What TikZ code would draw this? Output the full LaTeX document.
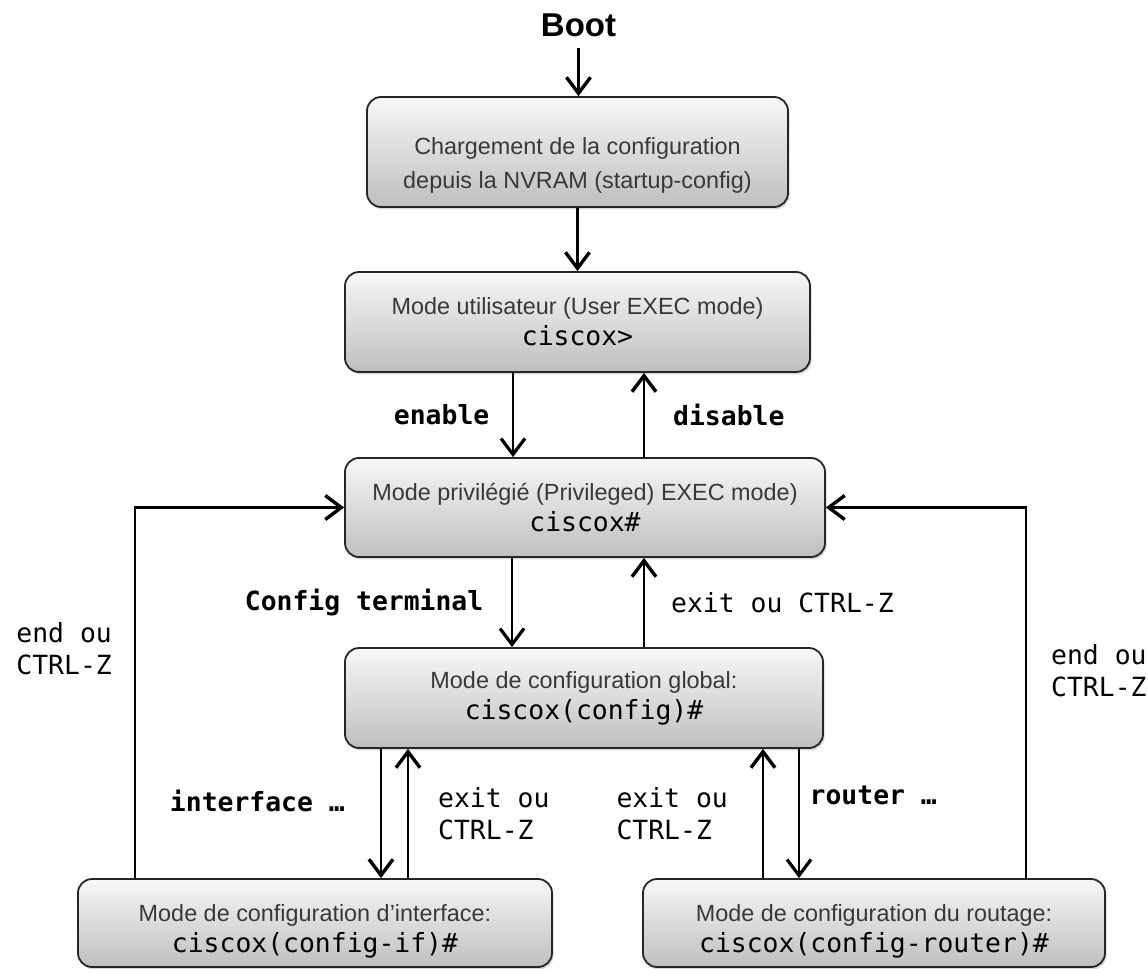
\documentclass[tikz,border=0pt]{standalone}
\usepackage{fontspec}
\setmainfont{Liberation Sans}
\setmonofont{DejaVu Sans Mono}
\usetikzlibrary{arrows.meta,shadows}
\newcommand{\prompt}[1]{{\color{black}\ttfamily\fontsize{13.2}{15.5}\selectfont #1}}

\begin{document}
\begin{tikzpicture}[x=0.5pt,y=-0.5pt,
  modebox/.style={draw=black!85, line width=0.9pt, rounded corners=7pt, top color=black!3, bottom color=black!25,
    drop shadow={shadow xshift=0.8pt, shadow yshift=-1.2pt, opacity=0.3}, align=center, text=black!78,
    font=\fontsize{11.7}{15.5}\selectfont, inner sep=0pt},
  heavyarr/.style={line width=1.2pt, -{Straight Barb[length=8pt,width=12pt,line width=1.7pt]}},
  thinarr/.style={line width=0.7pt, -{Straight Barb[length=8pt,width=12pt,line width=1.6pt]}},
  cmdlbl/.style={font=\ttfamily\fontsize{13.2}{16}\selectfont, inner sep=0pt, align=left},
  boldlbl/.style={cmdlbl, font=\ttfamily\bfseries\fontsize{13.2}{16}\selectfont}]
  \useasboundingbox (0,0) rectangle (1148,969);

  \node[font=\bfseries\fontsize{16.5}{18}\selectfont, inner sep=5.5pt] (boot) at (578.5,25) {Boot};
  \node[modebox, minimum width=210.5pt, minimum height=55pt] (load) at (577.5,152)
    {\rule{0pt}{21.5pt}Chargement de la configuration\\[1.5pt]depuis la NVRAM (startup-config)};
  \node[modebox, minimum width=232.5pt, minimum height=50pt] (user) at (577.5,322)
    {Mode utilisateur (User EXEC mode)\\\prompt{ciscox>}};
  \node[modebox, minimum width=240pt, minimum height=49.5pt] (priv) at (585,507.5)
    {Mode privilégié (Privileged) EXEC mode)\\\prompt{ciscox\#}};
  \node[modebox, minimum width=239pt, minimum height=50pt] (global) at (584,698)
    {Mode de configuration global:\\\prompt{ciscox(config)\#}};
  \node[modebox, minimum width=237pt, minimum height=44pt] (iface) at (315,923)
    {\rule{0pt}{16.5pt}Mode de configuration d’interface:\\\prompt{ciscox(config-if)\#}};
  \node[modebox, minimum width=231pt, minimum height=44pt] (router) at (874,923)
    {\rule{0pt}{16.5pt}Mode de configuration du routage:\\\prompt{ciscox(config-router)\#}};

  \path[heavyarr]
  (boot) edge (boot |- load.north)
  (load) edge (user)
  ([xshift=29.5pt]priv.north) edge node[boldlbl, right=14pt] {disable} ([xshift=29.5pt]priv.north |- user.south)
  ([xshift=30pt]global.north) edge node[cmdlbl, right=13pt] {exit ou CTRL-Z} ([xshift=30pt]global.north |- priv.south)
  ([xshift=-101.5pt]global.south) edge node[boldlbl, pos=0.4, left=17.5pt] {interface …} ([xshift=-101.5pt]global.south |- iface.north)
  ([xshift=46.5pt]iface.north) edge node[cmdlbl, right=14.5pt] {exit ou\\CTRL-Z} ([xshift=46.5pt]iface.north |- global.south)
  ([xshift=-55.5pt]router.north) edge node[cmdlbl, left=17pt] {exit ou\\CTRL-Z} ([xshift=-55.5pt]router.north |- global.south)
  ;
  \path[thinarr]
  ([xshift=-32.25pt]user.south) edge node[boldlbl, left=11.5pt] {enable} ([xshift=-32.25pt]user.south |- priv.north)
  ([xshift=-36.5pt]priv.south) edge node[boldlbl, left=14pt] {Config terminal} ([xshift=-36.5pt]priv.south |- global.north)
  ([xshift=107.5pt]global.south) edge node[boldlbl, pos=0.36, right=5pt] {router …} ([xshift=107.5pt]global.south |- router.north)
  ;
  \draw[heavyarr] ([xshift=-90pt]iface.north) |- node[cmdlbl, pos=0.31, left=11pt] {end ou\\CTRL-Z} (priv.west);
  \draw[heavyarr] ([xshift=76pt]router.north) |- node[cmdlbl, pos=0.28, right=12pt] {end ou\\CTRL-Z} (priv.east);
\end{tikzpicture}
\end{document}
